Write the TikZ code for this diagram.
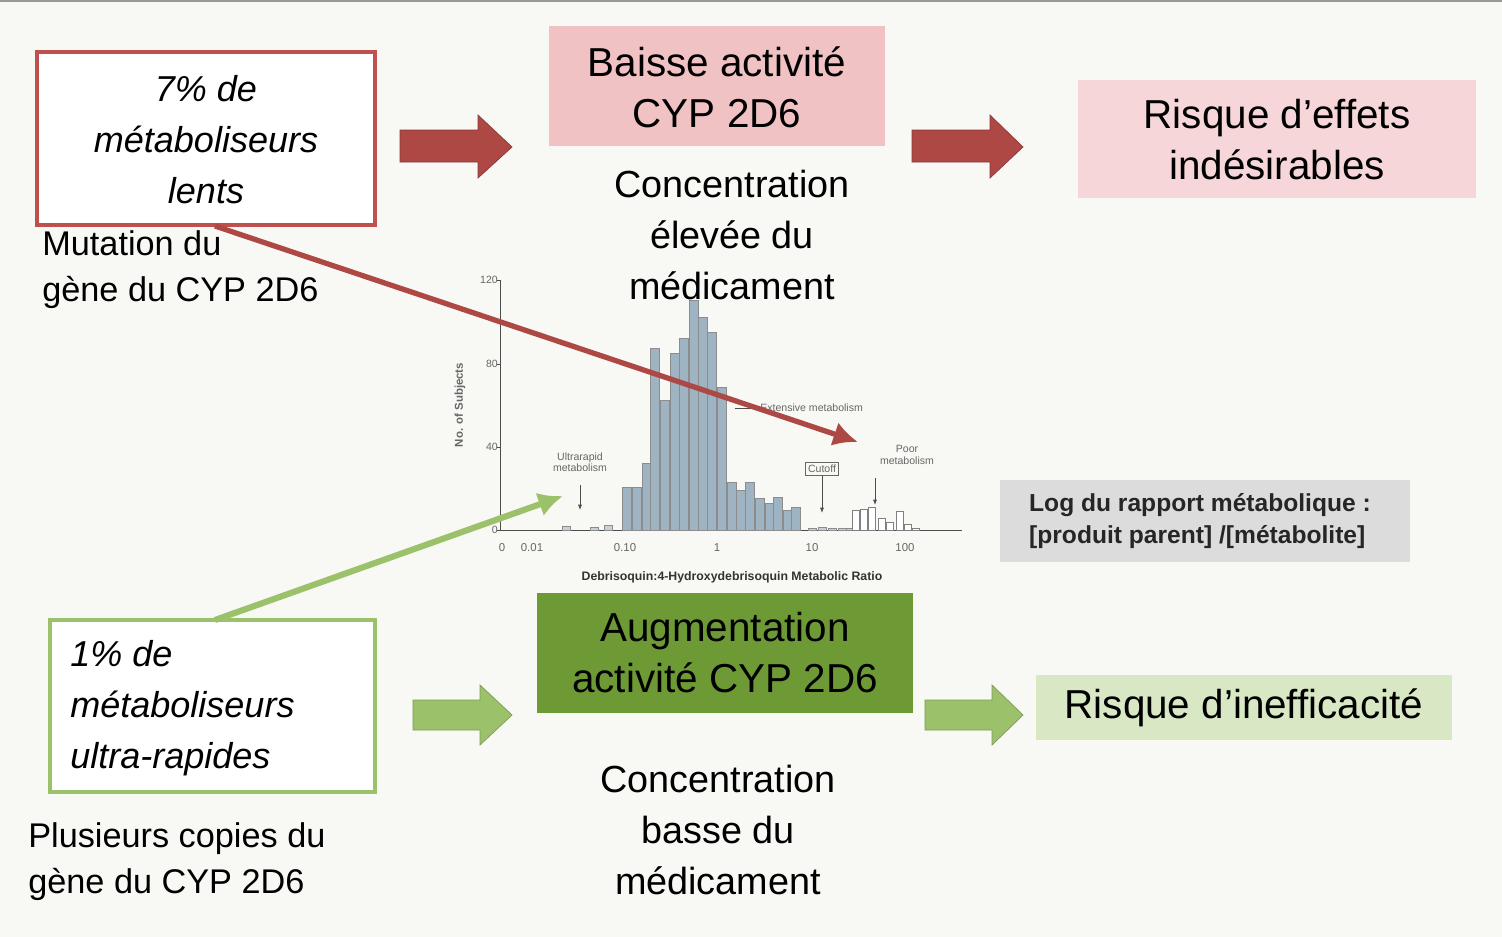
\documentclass[tikz,border=0pt]{standalone}
\usepackage{fontspec}
\setmainfont{Liberation Sans}
\usetikzlibrary{arrows.meta,positioning}
\definecolor{bg}{HTML}{F8F8F4}
\definecolor{redline}{HTML}{C0504D}
\definecolor{pinkA}{HTML}{F0C2C4}
\definecolor{pinkB}{HTML}{F6D6D8}
\definecolor{greenline}{HTML}{9BC26B}
\definecolor{greenA}{HTML}{6E9A35}
\definecolor{greenB}{HTML}{D9E8C4}
\definecolor{greyA}{HTML}{DCDCDC}
\definecolor{barc}{HTML}{9EB4C2}
\tikzset{
  txt/.style={align=center,inner sep=0pt,font=\fontsize{20}{23}\selectfont},
  blk/.style={fill=#1,draw=#1!80!black,line width=0.4pt},
  tiny/.style={font=\fontsize{6}{6.5}\selectfont,text=black!60,inner sep=0pt,align=center},
}
\begin{document}
\begin{tikzpicture}[x=0.02cm,y=-0.02cm]
\fill[bg] (0,0) rectangle (1502,937);
\useasboundingbox (0,0) rectangle (1502,937);
\draw[black!40,line width=1pt] (0,1) -- (1502,1);
% histogram
\draw[black!70,line width=0.5pt] (500,280) -- (500,530) -- (962,530);
\foreach \v/\y in {0/530,40/447,80/364,120/280}
  \draw[black!70,line width=0.5pt] (497,\y) -- (500,\y) node[tiny,left=1pt] {\v};
\foreach \l/\x in {0/502,0.01/532,0.10/625,1/717,10/812,100/905}
  \node[tiny,font=\fontsize{6.5}{6}\selectfont] at (\x,548) {\l};
\node[tiny,rotate=90,font=\bfseries\fontsize{6.5}{6}\selectfont] at (460,405) {No. of Subjects};
\node[tiny,font=\bfseries\fontsize{7}{6}\selectfont,text=black!80] at (732,577) {Debrisoquin:4-Hydroxydebrisoquin Metabolic Ratio};
\foreach \x/\t in {622/487,632/487,642/463,650/348,660/400,670/353,679/338,689/300,698/317,707/332,717/387,727/482,736/490,745/482,755/498,765/503,773/497,783/510,791/507}
  \draw[fill=barc,draw=black!45,line width=0.3pt] (\x,530) rectangle ++(9,\t-530);
\foreach \x/\t in {562/526,590/527,604/525,808/528,818/527,828/528,838/528,846/528}
  \draw[fill=barc!60,draw=black!45,line width=0.3pt] (\x,530) rectangle ++(8,\t-530);
\foreach \x/\t in {852/510,860/509,868/507,878/518,886/522,896/511,904/524,912/528}
  \draw[fill=white,draw=black!50,line width=0.3pt] (\x,530) rectangle ++(7,\t-530);
\node[tiny] (ultra) at (580,462) {Ultrarapid\\metabolism};
\draw[-{Latex[length=3pt]},black!70,line width=0.4pt] (580,485) -- (580,510);
\node[tiny,draw=black!60,inner sep=1.5pt] (cutoff) at (822,469) {Cutoff};
\draw[-{Latex[length=3pt]},black!70,line width=0.4pt] (cutoff.south) -- (822,513);
\node[tiny] (poor) at (907,455) {Poor\\metabolism};
\draw[-{Latex[length=3pt]},black!70,line width=0.4pt] (875,478) -- (875,505);
\node[tiny,anchor=west] (ext) at (760,408) {Extensive metabolism};
\draw[black!70,line width=0.4pt] (ext.west) -- (735,408);
% red row
\draw[redline,line width=1.8pt,fill=white] (37,52) rectangle (375,225);
\node[txt,font=\itshape\fontsize{20.5}{29}\selectfont] (slowt) at (206,140) {7\% de\\métaboliseurs\\lents};
\node[txt,align=left,anchor=north west,font=\fontsize{19.5}{26.5}\selectfont] (mut) at (42,230) {Mutation du\\gène du CYP 2D6};
\fill[pinkA] (549,26) rectangle (885,146);
\node[txt,font=\fontsize{23}{29}\selectfont] (baisse) at (717,87) {Baisse activité\\CYP 2D6};
\node[txt,font=\fontsize{21.5}{29}\selectfont] (conc1) at (732,235) {Concentration\\élevée du\\médicament};
\fill[pinkB] (1078,80) rectangle (1476,198);
\node[txt,font=\fontsize{23}{29}\selectfont] (risk1) at (1277,140) {Risque d'effets\\indésirables};
\draw[blk=redline!90!black] (400,130) -- (478,130) -- (478,115) -- (512,147) -- (478,178) -- (478,162) -- (400,162) -- cycle;
\draw[blk=redline!90!black] (912,130) -- (990,130) -- (990,115) -- (1023,147) -- (990,178) -- (990,162) -- (912,162) -- cycle;
\coordinate (rs) at (215,226);
\coordinate (re) at (858,442);
\draw[redline!90!black,line width=3pt,-{Latex[length=14pt,width=14pt]}] (rs) -- (re);
% grey box
\fill[greyA] (1000,480) rectangle (1410,562);
\node[txt,align=left,font=\bfseries\fontsize{14}{18}\selectfont,text=black!85] (logr) at (1200,521) {Log du rapport métabolique :\\{}[produit parent] /[métabolite]};
% green row
\draw[greenline,line width=1.8pt,fill=white] (50,620) rectangle (375,792);
\node[txt,align=left,anchor=west,font=\itshape\fontsize{20.5}{29}\selectfont] (fastt) at (70,708) {1\% de\\métaboliseurs\\ultra-rapides};
\node[txt,align=left,anchor=north west,font=\fontsize{19.5}{26.5}\selectfont] (cop) at (28,822) {Plusieurs copies du\\gène du CYP 2D6};
\fill[greenA] (537,593) rectangle (913,713);
\node[txt,font=\fontsize{23}{29}\selectfont] (augm) at (725,653) {Augmentation\\activité CYP 2D6};
\node[txt,font=\fontsize{21.5}{29}\selectfont] (conc2) at (718,830) {Concentration\\basse du\\médicament};
\fill[greenB] (1036,675) rectangle (1452,740);
\node[txt,font=\fontsize{23}{29}\selectfont] (risk2) at (1244,708) {Risque d'inefficacité};
\draw[blk=greenline] (413,700) -- (480,700) -- (480,685) -- (512,715) -- (480,745) -- (480,730) -- (413,730) -- cycle;
\draw[blk=greenline] (925,700) -- (992,700) -- (992,685) -- (1023,715) -- (992,745) -- (992,730) -- (925,730) -- cycle;
\coordinate (gs) at (215,620);
\coordinate (ge) at (563,496);
\draw[greenline,line width=3.5pt,-{Latex[length=14pt,width=14pt]}] (gs) -- (ge);
\end{tikzpicture}
\end{document}
